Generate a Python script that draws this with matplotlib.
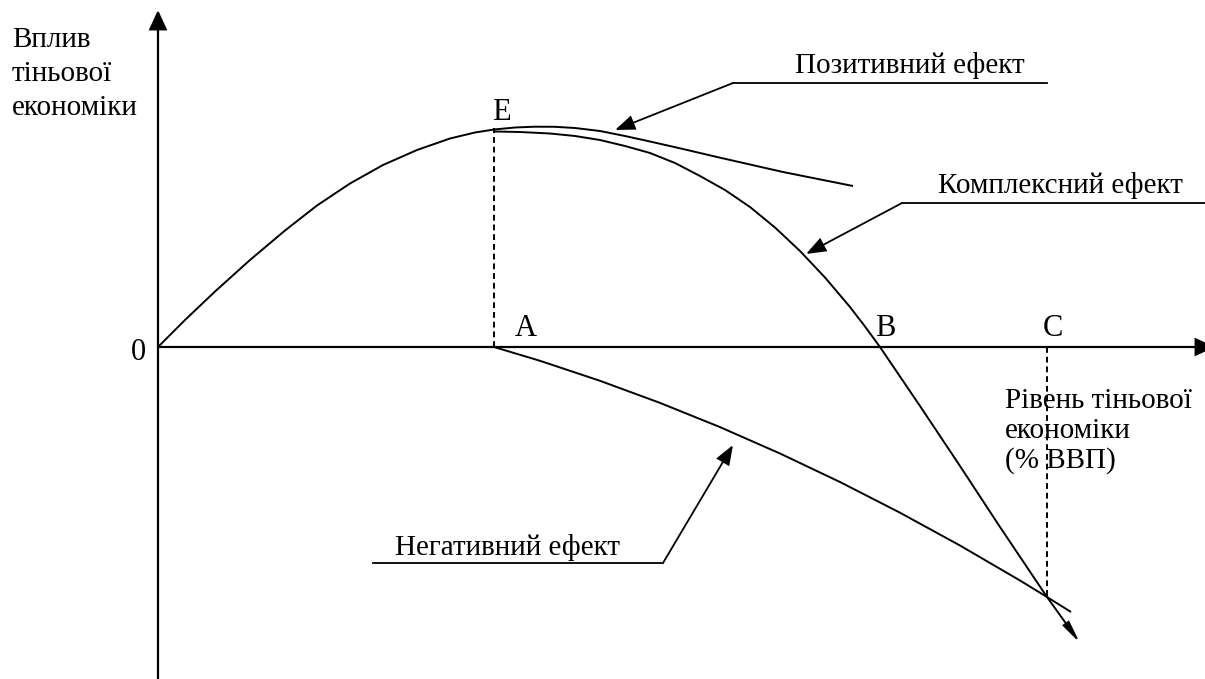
import matplotlib
matplotlib.use("Agg")
import matplotlib.pyplot as plt
from matplotlib.patches import FancyArrowPatch

plt.rcParams['font.family'] = ['Liberation Serif', 'DejaVu Serif']

# ---- data (schematic units; origin at the axes crossing, y up) ----
pos_x = [0, 27, 57, 92, 127, 159, 192, 225, 259, 292, 317, 336, 357, 377, 397, 417,
         442, 467, 492, 525, 559, 592, 625, 660, 695]
pos_y = [0, 27, 55.5, 87, 116.5, 141.5, 163.5, 182, 197, 208.5, 214.5, 217.5, 219.5,
         220.3, 220.2, 219, 216, 211, 205.5, 198, 190, 182.5, 175, 168, 161]

cx_x = [337, 362, 392, 417, 442, 467, 492, 517, 542, 567, 592, 617, 642, 667, 692, 707,
        722, 762, 802, 842, 889, 922]
cx_y = [215.5, 215, 213.5, 211, 207, 201, 194, 184, 171, 157, 140, 119.5, 96, 69.5, 40,
        20.5, 0, -59, -119, -180, -250, -296]

neg_x = [336, 382, 442, 502, 562, 622, 682, 742, 802, 862, 889, 913]
neg_y = [0, -13.8, -33.8, -55.9, -80.1, -106.5, -135, -165.7, -198.5, -233.5, -250, -265]

E_pt = (336, 219)
C_pt = (889, -251)

point_labels = ['E', 'A', 'B', 'C', '0']
point_pos = [(343, 234), (368, 18), (727, 18), (895, 18), (-20, -5)]

y_label_lines = ['Вплив', 'тіньової', 'економіки']
x_label_lines = ['Рівень тіньової', 'економіки', '(% ВВП)']

callout_texts = ['Позитивний ефект', 'Комплексний ефект', 'Негативний ефект']
callout_text_pos = [(637, 274), (780, 154), (237, -208)]
callout_line = [((575, 264), (889, 264)), ((744, 144), (1060, 144)), ((215, -216), (505, -216))]
callout_tip = [(457, 217), (648, 93), (575, -98)]

# ---- figure ----
fig = plt.figure(figsize=(12.05, 6.79), dpi=100)
ax = fig.add_axes([0, 0, 1, 1])
ax.set_xlim(-158, 1047)
ax.set_ylim(-332, 347)
ax.axis('off')

lw = 1.4
k = 'black'

def arrow(p0, p1, hl, hw, lw_=lw):
    a = FancyArrowPatch(p0, p1, arrowstyle=f'-|>,head_length={hl},head_width={hw}',
                        mutation_scale=1, shrinkA=0, shrinkB=0, color=k, lw=lw_,
                        joinstyle='miter')
    ax.add_patch(a)

# axes
arrow((0, -340), (0, 337), 12, 5.5, 1.6)
arrow((0, 0), (1057, 0), 12, 5.5, 1.6)

# curves
ax.plot(pos_x, pos_y, color=k, lw=lw, solid_capstyle='butt', solid_joinstyle='round')
ax.plot(cx_x[:-1], cx_y[:-1], color=k, lw=lw, solid_capstyle='butt', solid_joinstyle='round')
arrow((cx_x[-2], cx_y[-2]), (cx_x[-1], cx_y[-1]), 13, 2.2, lw)
ax.plot(neg_x, neg_y, color=k, lw=lw, solid_capstyle='butt', solid_joinstyle='round')

# dashed guides
ax.plot([E_pt[0], E_pt[0]], [0, E_pt[1]], color=k, lw=lw, ls=(0, (3, 2)))
ax.plot([C_pt[0], C_pt[0]], [0, C_pt[1]], color=k, lw=lw, ls=(0, (3, 2)))

# point labels
for t, (x, y) in zip(point_labels, point_pos):
    ax.text(x, y, t, fontsize=22, ha='center', va='center')

# axis labels
for i, t in enumerate(y_label_lines):
    ax.text(-146, 300 - 34 * i, t, fontsize=21, ha='left', va='baseline')
for i, t in enumerate(x_label_lines):
    ax.text(847, -61 - 30 * i, t, fontsize=21, ha='left', va='baseline')

# callouts
for t, tp, ln, tip in zip(callout_texts, callout_text_pos, callout_line, callout_tip):
    ax.text(tp[0], tp[1], t, fontsize=21, ha='left', va='baseline')
    ax.plot([ln[0][0], ln[1][0]], [ln[0][1], ln[1][1]], color=k, lw=1.3)
    start = ln[1] if t == 'Негативний ефект' else ln[0]
    arrow(start, tip, 12, 4.5, 1.3)

fig.savefig('out.png', dpi=100)
